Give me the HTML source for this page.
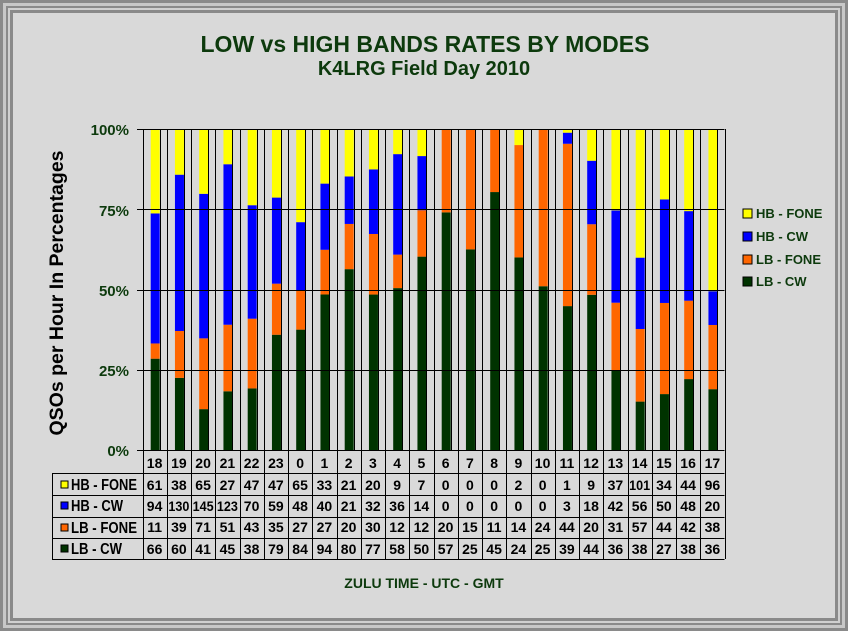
<!DOCTYPE html>
<html><head><meta charset="utf-8"><style>
html,body{margin:0;padding:0;background:#fff;}
body{width:849px;height:634px;position:relative;overflow:hidden;font-family:"Liberation Sans",Arial,sans-serif;}
</style></head><body>
<svg id="s" width="849" height="634" style="position:absolute;left:0;top:0" xmlns="http://www.w3.org/2000/svg" font-family="Liberation Sans, Arial, sans-serif" font-weight="bold">
<rect x="0" y="0" width="848" height="631" fill="#8a8a8a"/>
<rect x="3" y="3" width="842" height="625" fill="#c8c8c8"/>
<rect x="6" y="6" width="836" height="619" fill="#8a8a8a"/>
<rect x="8" y="8" width="832" height="615" fill="#d0d0d0"/>
<rect x="10" y="10" width="828" height="611" fill="#8a8a8a"/>
<rect x="13" y="13" width="822" height="605" fill="#d9d9d9"/>
<text x="425" y="52" text-anchor="middle" font-size="23" fill="#0d3a0d">LOW vs HIGH BANDS RATES BY MODES</text>
<text x="424" y="75" text-anchor="middle" font-size="20" fill="#0d3a0d">K4LRG Field Day 2010</text>
<text transform="translate(63,293) rotate(-90)" text-anchor="middle" font-size="19.5" fill="#000">QSOs per Hour In Percentages</text>
<g font-size="15" fill="#0d3a0d" text-anchor="end">
<text x="129" y="135">100%</text><text x="129" y="216">75%</text><text x="129" y="296">50%</text><text x="129" y="376">25%</text><text x="129" y="456">0%</text>
</g>
<g id="bars"></g>
<g font-size="13" fill="#0d3a0d">
<rect x="743" y="209" width="9" height="9" fill="#ffff00" stroke="#000"/><text x="756" y="218">HB - FONE</text>
<rect x="743" y="232" width="9" height="9" fill="#0000ff" stroke="#000"/><text x="756" y="241">HB - CW</text>
<rect x="743" y="255" width="9" height="9" fill="#ff6600" stroke="#000"/><text x="756" y="264">LB - FONE</text>
<rect x="743" y="277" width="9" height="9" fill="#003300" stroke="#000"/><text x="756" y="286">LB - CW</text>
</g>
<g font-size="16" fill="#000">
<rect x="61" y="481" width="7" height="7" fill="#ffff00" stroke="#000"/><text x="71" y="490" textLength="66" lengthAdjust="spacingAndGlyphs">HB - FONE</text>
<rect x="61" y="502" width="7" height="7" fill="#0000ff" stroke="#000"/><text x="71" y="511" textLength="52" lengthAdjust="spacingAndGlyphs">HB - CW</text>
<rect x="61" y="524" width="7" height="7" fill="#ff6600" stroke="#000"/><text x="71" y="533" textLength="66" lengthAdjust="spacingAndGlyphs">LB - FONE</text>
<rect x="61" y="545" width="7" height="7" fill="#003300" stroke="#000"/><text x="71" y="554" textLength="51" lengthAdjust="spacingAndGlyphs">LB - CW</text>
</g>
<g id="tbl" font-size="14" fill="#000" text-anchor="middle">
<text x="154.6" y="468">18</text><text x="178.9" y="468">19</text><text x="203.1" y="468">20</text><text x="227.4" y="468">21</text><text x="251.6" y="468">22</text><text x="275.9" y="468">23</text><text x="300.1" y="468">0</text><text x="324.4" y="468">1</text><text x="348.6" y="468">2</text><text x="372.9" y="468">3</text><text x="397.1" y="468">4</text><text x="421.4" y="468">5</text><text x="445.6" y="468">6</text><text x="469.9" y="468">7</text><text x="494.1" y="468">8</text><text x="518.4" y="468">9</text><text x="542.6" y="468">10</text><text x="566.9" y="468">11</text><text x="591.1" y="468">12</text><text x="615.4" y="468">13</text><text x="639.6" y="468">14</text><text x="663.9" y="468">15</text><text x="688.1" y="468">16</text><text x="712.4" y="468">17</text>
<text x="154.6" y="490">61</text><text x="178.9" y="490">38</text><text x="203.1" y="490">65</text><text x="227.4" y="490">27</text><text x="251.6" y="490">47</text><text x="275.9" y="490">47</text><text x="300.1" y="490">65</text><text x="324.4" y="490">33</text><text x="348.6" y="490">21</text><text x="372.9" y="490">20</text><text x="397.1" y="490">9</text><text x="421.4" y="490">7</text><text x="445.6" y="490">0</text><text x="469.9" y="490">0</text><text x="494.1" y="490">0</text><text x="518.4" y="490">2</text><text x="542.6" y="490">0</text><text x="566.9" y="490">1</text><text x="591.1" y="490">9</text><text x="615.4" y="490">37</text><text x="639.6" y="490" textLength="21" lengthAdjust="spacingAndGlyphs">101</text><text x="663.9" y="490">34</text><text x="688.1" y="490">44</text><text x="712.4" y="490">96</text>
<text x="154.6" y="511">94</text><text x="178.9" y="511" textLength="21" lengthAdjust="spacingAndGlyphs">130</text><text x="203.1" y="511" textLength="21" lengthAdjust="spacingAndGlyphs">145</text><text x="227.4" y="511" textLength="21" lengthAdjust="spacingAndGlyphs">123</text><text x="251.6" y="511">70</text><text x="275.9" y="511">59</text><text x="300.1" y="511">48</text><text x="324.4" y="511">40</text><text x="348.6" y="511">21</text><text x="372.9" y="511">32</text><text x="397.1" y="511">36</text><text x="421.4" y="511">14</text><text x="445.6" y="511">0</text><text x="469.9" y="511">0</text><text x="494.1" y="511">0</text><text x="518.4" y="511">0</text><text x="542.6" y="511">0</text><text x="566.9" y="511">3</text><text x="591.1" y="511">18</text><text x="615.4" y="511">42</text><text x="639.6" y="511">56</text><text x="663.9" y="511">50</text><text x="688.1" y="511">48</text><text x="712.4" y="511">20</text>
<text x="154.6" y="532">11</text><text x="178.9" y="532">39</text><text x="203.1" y="532">71</text><text x="227.4" y="532">51</text><text x="251.6" y="532">43</text><text x="275.9" y="532">35</text><text x="300.1" y="532">27</text><text x="324.4" y="532">27</text><text x="348.6" y="532">20</text><text x="372.9" y="532">30</text><text x="397.1" y="532">12</text><text x="421.4" y="532">12</text><text x="445.6" y="532">20</text><text x="469.9" y="532">15</text><text x="494.1" y="532">11</text><text x="518.4" y="532">14</text><text x="542.6" y="532">24</text><text x="566.9" y="532">44</text><text x="591.1" y="532">20</text><text x="615.4" y="532">31</text><text x="639.6" y="532">57</text><text x="663.9" y="532">44</text><text x="688.1" y="532">42</text><text x="712.4" y="532">38</text>
<text x="154.6" y="554">66</text><text x="178.9" y="554">60</text><text x="203.1" y="554">41</text><text x="227.4" y="554">45</text><text x="251.6" y="554">38</text><text x="275.9" y="554">79</text><text x="300.1" y="554">84</text><text x="324.4" y="554">94</text><text x="348.6" y="554">80</text><text x="372.9" y="554">77</text><text x="397.1" y="554">58</text><text x="421.4" y="554">50</text><text x="445.6" y="554">57</text><text x="469.9" y="554">25</text><text x="494.1" y="554">45</text><text x="518.4" y="554">24</text><text x="542.6" y="554">25</text><text x="566.9" y="554">39</text><text x="591.1" y="554">44</text><text x="615.4" y="554">36</text><text x="639.6" y="554">38</text><text x="663.9" y="554">27</text><text x="688.1" y="554">38</text><text x="712.4" y="554">36</text>
</g>
<g id="lines" stroke="#000" stroke-width="1" fill="none"></g>
<text x="424" y="588" text-anchor="middle" font-size="14" fill="#0d3a0d">ZULU TIME  -  UTC  -  GMT</text>
</svg>
<script>
var HBF=[61,38,65,27,47,47,65,33,21,20,9,7,0,0,0,2,0,1,9,37,101,34,44,96];
var HBC=[94,130,145,123,70,59,48,40,21,32,36,14,0,0,0,0,0,3,18,42,56,50,48,20];
var LBF=[11,39,71,51,43,35,27,27,20,30,12,12,20,15,11,14,24,44,20,31,57,44,42,38];
var LBC=[66,60,41,45,38,79,84,94,80,77,58,50,57,25,45,24,25,39,44,36,38,27,38,36];
var NS="http://www.w3.org/2000/svg",X0=142.5,W=24.25,T=129,B=450,H=B-T;
var bars=document.getElementById('bars'),ln=document.getElementById('lines');
function r(x,y,w,h,f){var e=document.createElementNS(NS,'rect');e.setAttribute('x',x);e.setAttribute('y',y);e.setAttribute('width',w);e.setAttribute('height',h);e.setAttribute('fill',f);bars.appendChild(e);}
function l(x1,y1,x2,y2){var e=document.createElementNS(NS,'line');e.setAttribute('x1',x1);e.setAttribute('y1',y1);e.setAttribute('x2',x2);e.setAttribute('y2',y2);ln.appendChild(e);}
for(var i=0;i<24;i++){
 var tot=HBF[i]+HBC[i]+LBF[i]+LBC[i],y=B,x=X0+i*W+8.2;
 [[LBC[i],'#003300'],[LBF[i],'#ff6600'],[HBC[i],'#0000ff'],[HBF[i],'#ffff00']].forEach(function(s){var h=s[0]/tot*H;r(x,y-h,9,h,s[1]);y-=h;});
}
for(var k=0;k<5;k++){var yy=Math.round(T+k*H/4)+0.5;l(137,yy,X0+24*W,yy);}
for(var i=0;i<=24;i++){var xx=Math.round(X0+i*W)+0.5;l(xx,T,xx,559);if(i<24){var xb=Math.round(X0+i*W+17.2)+0.5;l(xb,T,xb,B);}}
[473,495,516.5,538,559].forEach(function(y){l(52,Math.round(y)+0.5,X0+24*W,Math.round(y)+0.5);});
l(52.5,473,52.5,559);
</script>
</body></html>
